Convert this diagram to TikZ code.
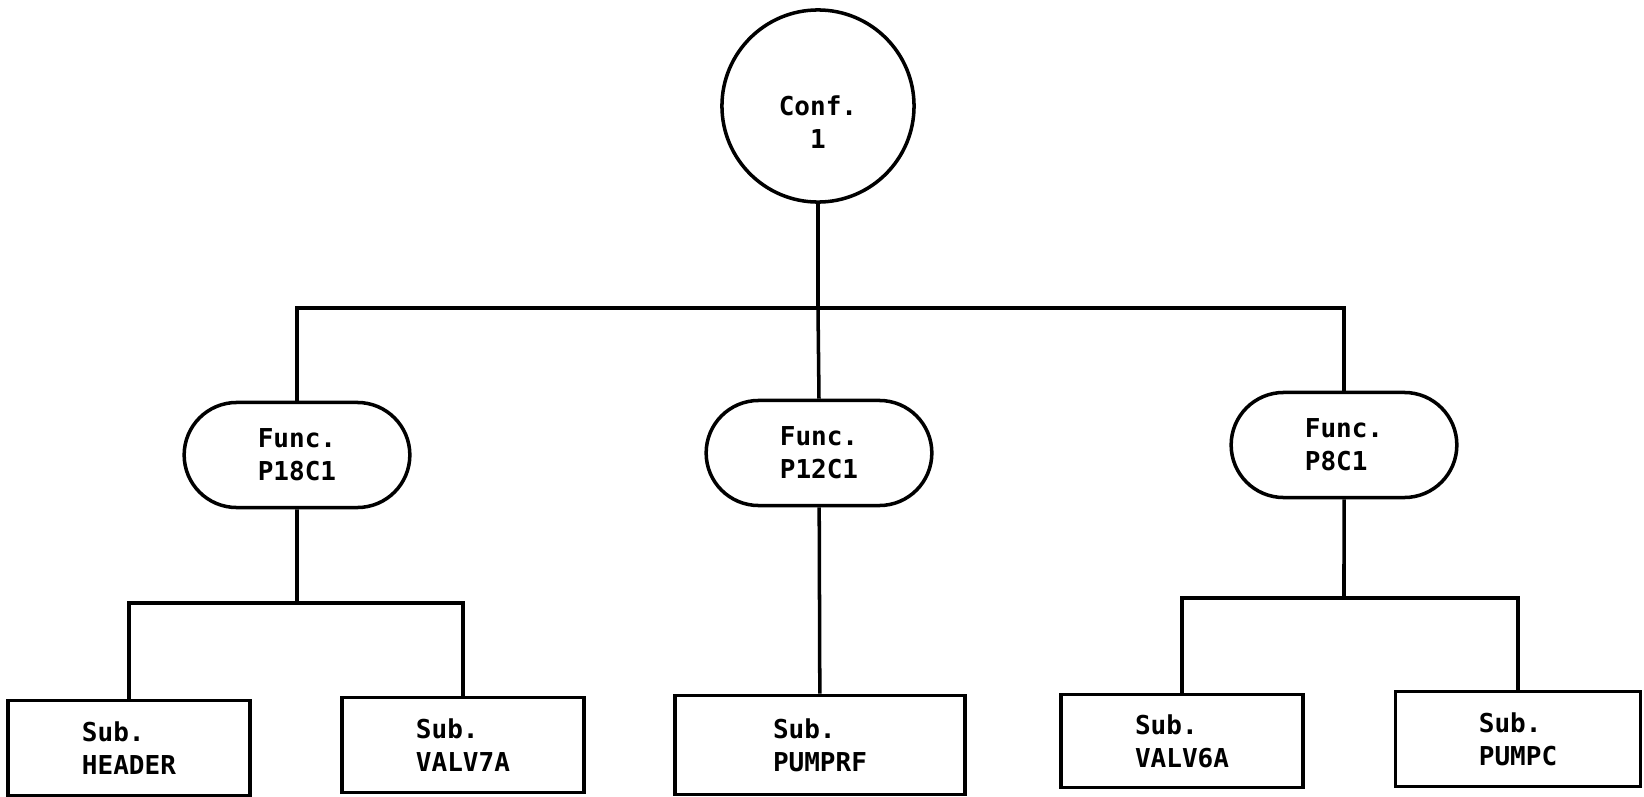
\documentclass[tikz,border=0pt]{standalone}
\usepackage{fontspec}
\usetikzlibrary{shapes.misc}
\newfontfamily\printfont{DejaVu Sans Mono}

\begin{document}
\begin{tikzpicture}[x=0.01cm, y=-0.01cm, line width=1pt,
    every node/.style={font=\printfont\bfseries\fontsize{7.4}{9.4}\selectfont, align=left},
    confnode/.style={draw, circle, minimum size=1.92cm},
    funcnode/.style={draw, rounded rectangle, minimum width=2.49cm, minimum height=1.05cm},
    subnode/.style={draw, rectangle, minimum width=2.42cm, minimum height=0.95cm}]
        % frame
        \useasboundingbox (0,0) rectangle (1644,797);

        % configuration
        \node[confnode, label={[align=center, yshift=-0.16cm]center:Conf.\\1}] (conf) at (818,106) {};

        % functions
        \node[funcnode] (p18c1) at (297,455) {Func.\\P18C1};
        \node[funcnode] (p12c1) at (819,453) {Func.\\P12C1};
        \node[funcnode] (p8c1) at (1344,445) {Func.\\P8C1};

        % subsystems
        \node[subnode] (header) at (129,748) {Sub.\\HEADER};
        \node[subnode] (valv7a) at (463,745) {Sub.\\VALV7A};
        \node[subnode, minimum width=2.9cm, minimum height=0.99cm] (pumprf) at (820,745) {Sub.\\PUMPRF};
        \node[subnode, minimum height=0.93cm] (valv6a) at (1182,741) {Sub.\\VALV6A};
        \node[subnode, minimum width=2.45cm] (pumpc) at (1518,739) {Sub.\\PUMPC};

        % bus lines
        \coordinate (topbus) at (818,308);
        \coordinate (lbus) at (297,603);
        \coordinate (rbus) at (1344,598);

        % configuration to functions
        \draw (conf) -- (topbus);
        \draw (p18c1.north) |- (topbus) -| (p8c1.north);
        \draw (topbus) -- (p12c1.north);

        % functions to subsystems
        \draw (p18c1) -- (lbus);
        \draw (header.north) |- (lbus) -| (valv7a.north);
        \draw (p12c1) -- (pumprf);
        \draw (p8c1) -- (rbus);
        \draw (valv6a.north) |- (rbus) -| (pumpc.north);
      \end{tikzpicture}
\end{document}
